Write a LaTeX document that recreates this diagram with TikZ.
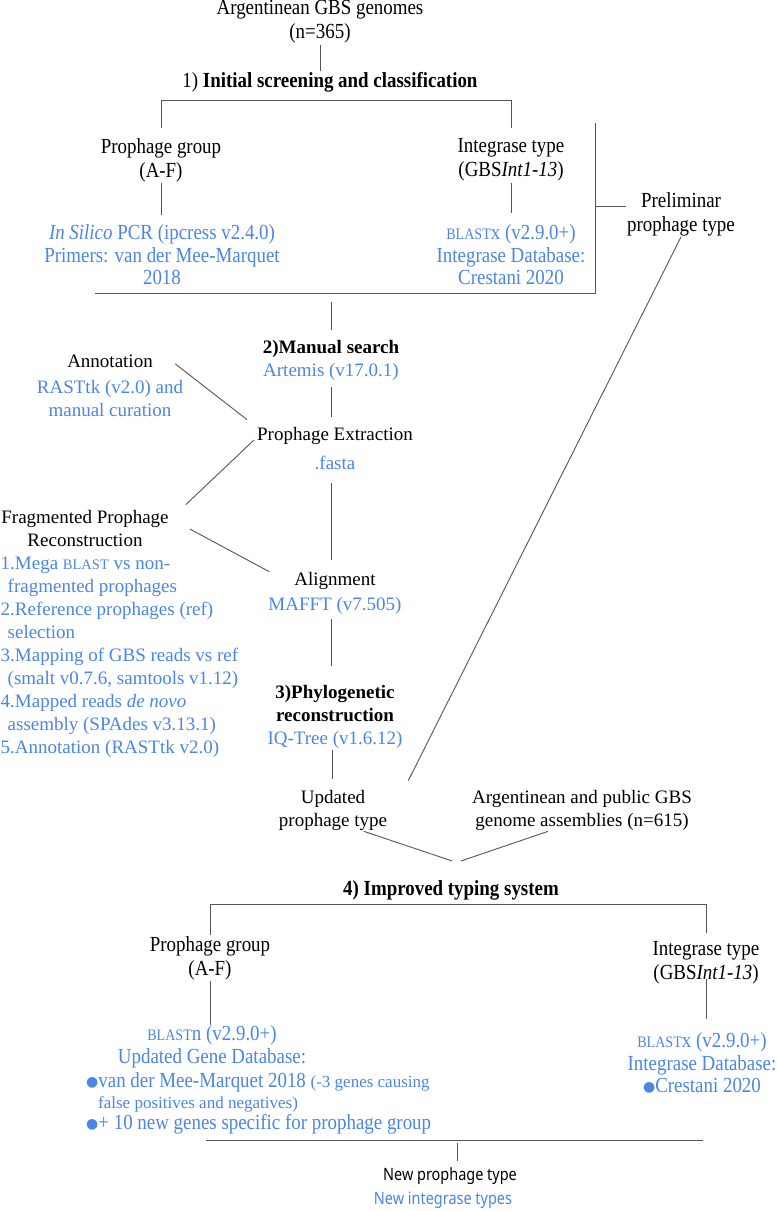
\documentclass[tikz,border=0pt]{standalone}
\usepackage{fontspec}
\setmainfont{Liberation Serif}
\newfontfamily\condf[FakeStretch=0.88]{Liberation Serif}
\newfontfamily\sansc[FakeStretch=0.85]{Noto Sans}
\newfontfamily\dejavu{DejaVu Sans}
\usetikzlibrary{calc}
\definecolor{mblue}{RGB}{74,134,232}
\definecolor{lgray}{RGB}{85,85,85}
\newcommand\smcT[1]{{\fontsize{16}{16}\selectfont #1}}
\newcommand\smcM[1]{{\fontsize{14.5}{14.5}\selectfont #1}}
\newcommand\bul{\raisebox{1pt}{\dejavu\fontsize{14}{14}\selectfont ●}}
\tikzset{
  T/.style={font=\condf\fontsize{21.5}{24}\selectfont, align=center, inner sep=1pt},
  TB/.style={T, text=mblue, font=\condf\fontsize{21.5}{22.5}\selectfont},
  M/.style={font=\fontsize{19}{23}\selectfont, align=center, inner sep=1pt},
  MB/.style={M, text=mblue},
  conn/.style={draw=lgray, line width=0.9pt},
}
\begin{document}
\begin{tikzpicture}[x=1pt,y=-1pt]
\fill[white] (0,0) rectangle (778,1211);
\useasboundingbox (0,0) rectangle (778,1211);

% ---- part 1 ----
\node[T] (gen) at (320,22) {Argentinean GBS genomes\\(n=365)};
\node[T] (s1) at (330,82) {1) \textbf{Initial screening and classification}};
\node[T] (pg) at (161,160) {Prophage group\\(A-F)};
\node[T] (ig) at (511,160) {Integrase type\\(GBS\textit{Int1-13})};
\node[TB] (pcr) at (162,255) {\textit{In Silico} PCR (ipcress v2.4.0)\\Primers: van der Mee-Marquet\\2018};
\node[TB] (bx) at (511,255) {\smcT{BLAST}x (v2.9.0+)\\Integrase Database:\\Crestani 2020};
\node[T] (prelim) at (681,214) {Preliminar\\prophage type};

\coordinate (top1) at (0,100);
\coordinate (bl) at (95,293);
\coordinate (br) at (595,293);
\coordinate (brt) at (595,123);
\coordinate (bk) at (595,206);

\draw[conn] (gen.south) -- (gen.south |- s1.north);
\draw[conn] ([yshift=9pt]pg.north) -- (pg.north |- top1) -- (ig.north |- top1) -- ([yshift=9pt]ig.north);
\draw[conn, shorten >=9pt] (pg.south) -- (pg.south |- pcr.north);
\draw[conn, shorten >=11pt] (ig.south) -- (ig.south |- bx.north);
\draw[conn] (bl) -- (br) -- (brt);
\draw[conn] (bk) -- (bk -| prelim.west);

% ---- part 2 ----
\node[M] (ms) at (331,360) {\textbf{2)Manual search}\\{\color{mblue}Artemis (v17.0.1)}};
\node[M] (pe) at (335,449) {Prophage Extraction\\[6pt]{\color{mblue}.fasta}};
\node[M] (ann) at (110,386) {Annotation\\[3pt]{\color{mblue}RASTtk (v2.0) and}\\{\color{mblue}manual curation}};
\node[M] (fr) at (85,528) {Fragmented Prophage\\Reconstruction};
\node[M] (al) at (335,593) {Alignment\\[2pt]{\color{mblue}MAFFT (v7.505)}};
\node[M] (ph) at (335,717) {\textbf{3)Phylogenetic}\\\textbf{reconstruction}\\{\color{mblue}IQ-Tree (v1.6.12)}};
\node[M] (upd) at (333,810) {Updated\\prophage type};
\node[MB, align=left, inner sep=0pt, anchor=west] (lst) at (0.5,657) {1.Mega \smcM{BLAST} vs non-\\
\hspace*{7pt}fragmented prophages\\
2.Reference prophages (ref)\\
\hspace*{7pt}selection\\
3.Mapping of GBS reads vs ref\\
\hspace*{7pt}(smalt v0.7.6, samtools v1.12)\\
4.Mapped reads \textit{de novo}\\
\hspace*{7pt}assembly (SPAdes v3.13.1)\\
5.Annotation (RASTtk v2.0)};

\draw[conn] ($(ms.north |- bl)+(0,9)$) -- ($(ms.north)+(0,-9)$);
\draw[conn, shorten <=6pt, shorten >=10pt] (ms.south) -- (ms.south |- pe.north);
\draw[conn, shorten <=12pt, shorten >=11pt] ($(pe.south)+(-4,0)$) -- ($(al.north)+(-4,0)$);
\draw[conn, shorten <=4pt, shorten >=18pt] ($(al.south)+(-4,0)$) -- ($(ph.north)+(-4,0)$);
\draw[conn, shorten >=10pt] ($(ph.south)+(-3,0)$) -- ($(ph.south |- upd.north)+(-3,0)$);
\draw[conn] ($(ann.north east)+(-9,10)$) -- ($(pe.north west)+(-9,-7)$);
\draw[conn] ($(pe.west)+(-2,-9)$) -- ($(fr.north east)+(16,-4)$);
\draw[conn] ($(fr.east)+(20,1)$) -- ($(al.north west)+(2,1)$);
\draw[conn] (prelim.south) -- ($(upd.north east)+(20,-8)$);

% ---- part 4 ----
\node[M] (arg) at (582,810) {Argentinean and public GBS\\genome assemblies (n=615)};
\node[T] (s4) at (451,890) {\textbf{4) Improved typing system}};
\draw[conn] ($(upd.south)+(31,0)$) -- ($(s4.north)+(1,-18)$);
\draw[conn] ($(arg.south)+(-34,0)$) -- ($(s4.north)+(10,-18)$);

\node[T] (pg2) at (210,958) {Prophage group\\(A-F)};
\node[T] (ig2) at (706,963) {Integrase type\\(GBS\textit{Int1-13})};
\coordinate (t2) at (0,904);
\draw[conn] (pg2.north) -- (pg2.north |- t2) -- (ig2.north |- t2) -- ([yshift=7pt]ig2.north);

\node[TB] (bnh) at (212,1047) {\smcT{BLAST}n (v2.9.0+)\\Updated Gene Database:};
\node[TB, align=left, inner sep=0pt, anchor=west, font=\condf\fontsize{21.5}{21}\selectfont] (bnl) at (86,1103) {\bul van der Mee-Marquet 2018 {\rmfamily\fontsize{17}{17}\selectfont(-3 genes causing}\\
\hspace*{12pt}{\rmfamily\fontsize{17}{17}\selectfont false positives and negatives)}\\
\bul+ 10 new genes specific for prophage group};
\node[TB] (bx2) at (702,1063) {\smcT{BLAST}x (v2.9.0+)\\Integrase Database:\\\bul Crestani 2020};
\draw[conn] (pg2.south) -- (pg2.south |- bnh.north);
\draw[conn] ([yshift=7pt]ig2.south) -- ([yshift=12pt]ig2.south |- bx2.north);

\coordinate (bb1) at (206,1140);
\coordinate (bb2) at (703,1140);
\node[font=\sansc\fontsize{17}{20}\selectfont, inner sep=1pt] (np) at (450,1176) {New prophage type};
\node[font=\sansc\fontsize{17}{20}\selectfont, text=mblue, inner sep=1pt] (nit) at (443,1200) {New integrase types};
\draw[conn] (bb1) -- (bb2);
\draw[conn] ($(np.north |- bb1)+(7,3)$) -- ($(np.north)+(7,-5)$);
\end{tikzpicture}
\end{document}
